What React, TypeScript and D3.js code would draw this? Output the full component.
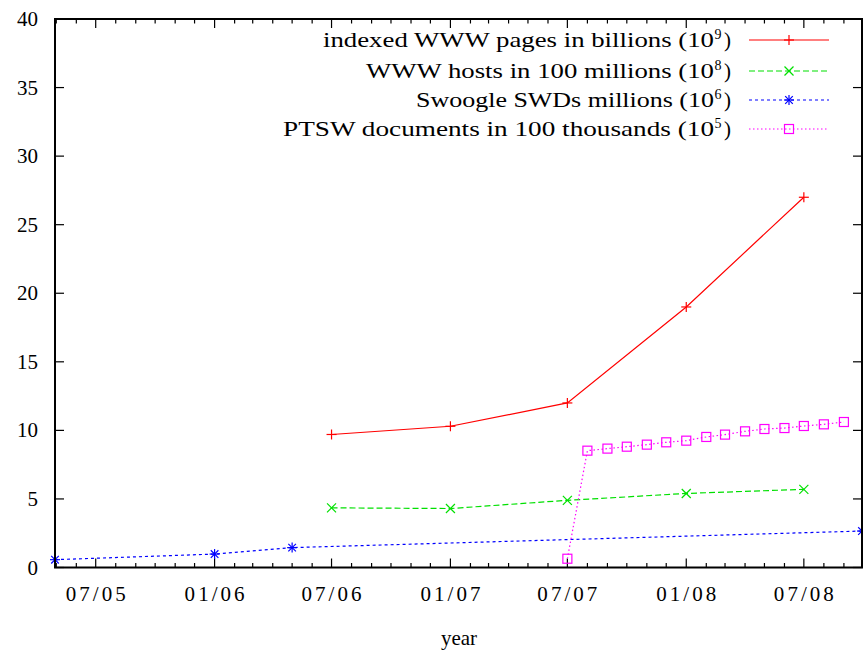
import * as d3 from 'd3';
import React, { useRef, useEffect } from 'react';

const W = 863;
const H = 652;
const FONT = "'Liberation Serif', 'DejaVu Serif', 'Times New Roman', Times, serif";

const wwwPagesDates = ['2006-07-01', '2007-01-01', '2007-07-01', '2008-01-01', '2008-07-01'];
const wwwPagesValues = [9.7, 10.3, 12.0, 19.0, 27.0];

const wwwHostsDates = ['2006-07-01', '2007-01-01', '2007-07-01', '2008-01-01', '2008-07-01'];
const wwwHostsValues = [4.35, 4.3, 4.9, 5.4, 5.7];

const swoogleDates = ['2005-04-29', '2006-01-01', '2006-05-01', '2008-09-29'];
const swoogleValues = [0.57, 0.98, 1.45, 2.66];

const ptswDates = [
  '2007-07-01', '2007-08-01', '2007-09-01', '2007-10-01', '2007-11-01', '2007-12-01',
  '2008-01-01', '2008-02-01', '2008-03-01', '2008-04-01', '2008-05-01', '2008-06-01',
  '2008-07-01', '2008-08-01', '2008-09-01'
];
const ptswValues = [0.64, 8.52, 8.67, 8.81, 8.96, 9.13, 9.25, 9.52, 9.69, 9.93, 10.1, 10.17, 10.32, 10.44, 10.61];

const yTicks = [0, 5, 10, 15, 20, 25, 30, 35, 40];

const seriesList = [
  { name: 'indexed WWW pages in billions (10', exp: '9', dates: wwwPagesDates, values: wwwPagesValues, color: '#ff0000', dash: null, marker: 'plus', width: 408 },
  { name: 'WWW hosts in 100 millions (10', exp: '8', dates: wwwHostsDates, values: wwwHostsValues, color: '#00e000', dash: '6,3', marker: 'cross', width: 365 },
  { name: 'Swoogle SWDs millions (10', exp: '6', dates: swoogleDates, values: swoogleValues, color: '#0000ff', dash: '3,3', marker: 'star', width: 315 },
  { name: 'PTSW documents in 100 thousands (10', exp: '5', dates: ptswDates, values: ptswValues, color: '#ff00ff', dash: '1.5,2.5', marker: 'box', width: 448 }
];

function drawMarker(g, kind, x, y, color) {
  const s = 5;
  const add = (x1, y1, x2, y2) => g.append('line')
    .attr('x1', x1).attr('y1', y1).attr('x2', x2).attr('y2', y2)
    .attr('stroke', color).attr('stroke-width', 1.2);
  if (kind === 'plus' || kind === 'star') {
    add(x - s, y, x + s, y);
    add(x, y - s, x, y + s);
  }
  if (kind === 'cross' || kind === 'star') {
    const c = kind === 'star' ? 3.8 : 4.5;
    add(x - c, y - c, x + c, y + c);
    add(x - c, y + c, x + c, y - c);
  }
  if (kind === 'box') {
    g.append('rect')
      .attr('x', x - 4.5).attr('y', y - 4.5).attr('width', 9).attr('height', 9)
      .attr('fill', 'none').attr('stroke', color).attr('stroke-width', 1.2);
  }
}

const App = () => {
  const ref = useRef(null);

  useEffect(() => {
    const svg = d3.select(ref.current);
    svg.selectAll('*').remove();

    const left = 55, right = 862, top = 19, bottom = 567.5;
    const parse = d3.utcParse('%Y-%m-%d');

    const x = d3.scaleUtc()
      .domain([parse('2005-04-29'), parse('2008-09-29')])
      .range([left, right]);
    const y = d3.scaleLinear().domain([0, 40]).range([bottom, top]);

    const g = svg.append('g')
      .style('font-family', FONT)
      .style('font-size', '21px');

    // monthly x ticks, top and bottom
    const months = d3.utcMonth.range(x.domain()[0], x.domain()[1]);
    const isMajor = d => d.getUTCMonth() === 0 || d.getUTCMonth() === 6;
    const majors = months.filter(isMajor);
    for (const m of months) {
      const len = isMajor(m) ? 9 : 4.5;
      const px = x(m);
      g.append('line').attr('x1', px).attr('x2', px).attr('y1', bottom).attr('y2', bottom - len)
        .attr('stroke', '#000').attr('stroke-width', 1.2);
      g.append('line').attr('x1', px).attr('x2', px).attr('y1', top).attr('y2', top + len)
        .attr('stroke', '#000').attr('stroke-width', 1.2);
    }
    g.selectAll('text.xl')
      .data(majors)
      .enter().append('text')
      .attr('class', 'xl')
      .attr('x', d => x(d))
      .attr('y', 601)
      .attr('text-anchor', 'middle')
      .attr('textLength', 60)
      .text(d3.utcFormat('%m/%y'));

    // y ticks, left and right
    for (const t of yTicks) {
      const py = y(t);
      g.append('line').attr('x1', left).attr('x2', left + 9).attr('y1', py).attr('y2', py)
        .attr('stroke', '#000').attr('stroke-width', 1.2);
      g.append('line').attr('x1', right).attr('x2', right - 9).attr('y1', py).attr('y2', py)
        .attr('stroke', '#000').attr('stroke-width', 1.2);
      g.append('text')
        .attr('x', 38)
        .attr('y', py + 7)
        .attr('text-anchor', 'end')
        .text(t);
    }

    g.append('text')
      .attr('x', 459).attr('y', 645)
      .attr('text-anchor', 'middle')
      .text('year');

    // series
    seriesList.forEach(s => {
      const pts = s.dates.map((d, i) => [x(parse(d)), y(s.values[i])]);
      g.append('path')
        .attr('d', d3.line()(pts))
        .attr('fill', 'none')
        .attr('stroke', s.color)
        .attr('stroke-width', 1.2)
        .attr('stroke-dasharray', s.dash);
      pts.forEach(p => drawMarker(g, s.marker, p[0], p[1], s.color));
    });

    // legend: label text ends at 731, sample line 749..829
    const legendRows = [40, 71, 100, 129];
    seriesList.forEach((s, i) => {
      const ly = legendRows[i];
      const x0 = 731 - s.width;
      const nameLen = s.width - 17;
      g.append('text')
        .attr('x', x0).attr('y', ly + 7)
        .attr('textLength', nameLen)
        .attr('lengthAdjust', 'spacingAndGlyphs')
        .text(s.name);
      g.append('text')
        .attr('x', x0 + nameLen + 0.5).attr('y', ly - 1)
        .style('font-size', '14px')
        .text(s.exp);
      g.append('text')
        .attr('x', 731).attr('y', ly + 7)
        .attr('text-anchor', 'end')
        .text(')');
      g.append('line')
        .attr('x1', 749).attr('x2', 829).attr('y1', ly).attr('y2', ly)
        .attr('stroke', s.color).attr('stroke-width', 1.2)
        .attr('stroke-dasharray', s.dash);
      drawMarker(g, s.marker, 789, ly, s.color);
    });

    // border
    g.append('rect')
      .attr('x', left).attr('y', top)
      .attr('width', right - left).attr('height', bottom - top)
      .attr('fill', 'none').attr('stroke', '#000').attr('stroke-width', 2);
  }, []);

  return (
    <svg ref={ref} width={W} height={H}
      style={{ position: 'absolute', left: 0, top: 0, background: '#fff' }} />
  );
};

export default App;
